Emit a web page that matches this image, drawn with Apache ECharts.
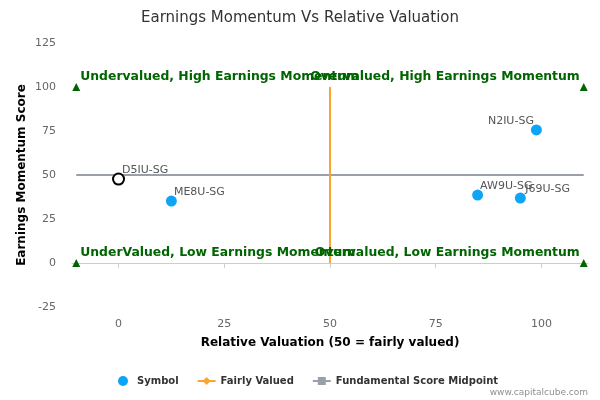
<!DOCTYPE html>
<html>
<head>
<meta charset="utf-8">
<script src="https://cdn.jsdelivr.net/npm/echarts@6/dist/echarts.min.js"></script>
<style>
  html, body { margin: 0; padding: 0; background: #fff; }
  #chart { width: 600px; height: 400px; }
</style>
</head>
<body>
<div id="chart"></div>
<script>
// symbols: [relative valuation, earnings momentum score]
const symbols = ['D5IU-SG', 'ME8U-SG', 'AW9U-SG', 'J69U-SG', 'N2IU-SG'];
const valuation = [0, 12.5, 84.9, 95.0, 98.8];
const momentum = [47.7, 35.2, 38.6, 36.9, 75.6];

const fairlyValued = [[50, 0], [50, 100]];
const midpoint = [[-10, 50], [110, 50]];

const quadrants = [
  { name: 'Undervalued, High Earnings Momentum', value: [-10, 100], side: 'left' },
  { name: 'Overvalued, High Earnings Momentum', value: [110, 100], side: 'right' },
  { name: 'UnderValued, Low Earnings Momentum', value: [-10, 0], side: 'left' },
  { name: 'Overvalued, Low Earnings Momentum', value: [110, 0], side: 'right' },
];

const xTicks = [0, 25, 50, 75, 100];

const font = 'DejaVu Sans, sans-serif';
const myChart = echarts.init(document.getElementById('chart'));

const symbolData = symbols.map((s, i) => {
  const item = { name: s, value: [valuation[i], momentum[i]] };
  if (i === 0) {
    // highlighted company, hollow black marker
    item.itemStyle = { color: '#fff', borderColor: '#000', borderWidth: 2, opacity: 1 };
    item.symbolSize = 11;
  }
  if (s === 'N2IU-SG') {
    item.label = { position: 'left', distance: 0, offset: [3, -9] };
  }
  if (s === 'J69U-SG') {
    item.label = { offset: [-0.5, -9] };
  }
  return item;
});

const option = {
  animation: false,
  title: {
    text: 'Earnings Momentum Vs Relative Valuation',
    left: 'center',
    top: 6,
    textStyle: { fontFamily: font, fontSize: 15, fontWeight: 'normal', color: '#333' },
  },
  grid: { left: 72, right: 12, top: 43, bottom: 93 },
  xAxis: {
    type: 'value',
    min: -11,
    max: 111,
    name: 'Relative Valuation (50 = fairly valued)',
    nameLocation: 'middle',
    nameGap: 30,
    nameTextStyle: { fontFamily: font, fontSize: 12, fontWeight: 'bold', color: '#000' },
    axisLine: { show: true, lineStyle: { color: '#c0d0e0' } },
    axisTick: { show: true, length: 5, customValues: xTicks, lineStyle: { color: '#c0d0e0' } },
    axisLabel: { customValues: xTicks, fontFamily: font, fontSize: 11, color: '#666', margin: 12 },
    splitLine: { show: false },
  },
  yAxis: {
    type: 'value',
    min: -25,
    max: 125,
    interval: 25,
    name: 'Earnings Momentum Score',
    nameLocation: 'middle',
    nameGap: 44,
    nameMoveOverlap: false,
    nameTextStyle: { fontFamily: font, fontSize: 12, fontWeight: 'bold', color: '#000' },
    axisLine: { show: false },
    axisTick: { show: false },
    axisLabel: { fontFamily: font, fontSize: 11, color: '#666', margin: 16 },
    splitLine: { show: false },
  },
  legend: {
    bottom: 9,
    left: 113,
    itemGap: 18,
    itemWidth: 18,
    itemHeight: 10,
    textStyle: { fontFamily: font, fontSize: 10, fontWeight: 'bold', color: '#333' },
    data: [
      { name: 'Symbol', icon: 'circle' },
      'Fairly Valued',
      'Fundamental Score Midpoint',
    ],
  },
  graphic: [{
    type: 'text',
    right: 12,
    bottom: 3,
    style: { text: 'www.capitalcube.com', fontFamily: font, fontSize: 9, fill: '#909090' },
  }],
  series: [
    {
      name: 'Fundamental Score Midpoint',
      type: 'line',
      data: midpoint,
      symbol: 'rect',
      symbolSize: 8,
      showSymbol: false,
      color: '#9aa0ab',
      lineStyle: { width: 2, color: '#9aa0ab' },
      z: 1,
    },
    {
      name: 'Fairly Valued',
      type: 'line',
      data: fairlyValued,
      symbol: 'diamond',
      symbolSize: 10,
      showSymbol: false,
      color: '#f8a532',
      lineStyle: { width: 2, color: '#f8a532' },
      z: 1,
    },
    {
      name: 'Quadrants',
      type: 'scatter',
      data: quadrants.map((q) => ({
        name: q.name,
        value: q.value,
        label: q.side === 'left'
          ? { position: 'right', distance: 0, offset: [0, -10], align: 'left' }
          : { position: 'left', distance: 0, offset: [0, -10], align: 'right' },
      })),
      symbol: 'triangle',
      symbolSize: 8,
      itemStyle: { color: '#006400', opacity: 1 },
      label: {
        show: true,
        formatter: (p) => p.name,
        fontFamily: font,
        fontSize: 12.4,
        fontWeight: 'bold',
        color: '#006400',
      },
      z: 3,
    },
    {
      name: 'Symbol',
      type: 'scatter',
      data: symbolData,
      symbolSize: 11,
      color: '#0ea5f6',
      itemStyle: { opacity: 1 },
      label: {
        show: true,
        position: 'right',
        distance: 0,
        offset: [-3, -9],
        formatter: (p) => p.name,
        fontFamily: font,
        fontSize: 11,
        color: '#555',
      },
      z: 4,
    },
  ],
};

myChart.setOption(option);
</script>
</body>
</html>
